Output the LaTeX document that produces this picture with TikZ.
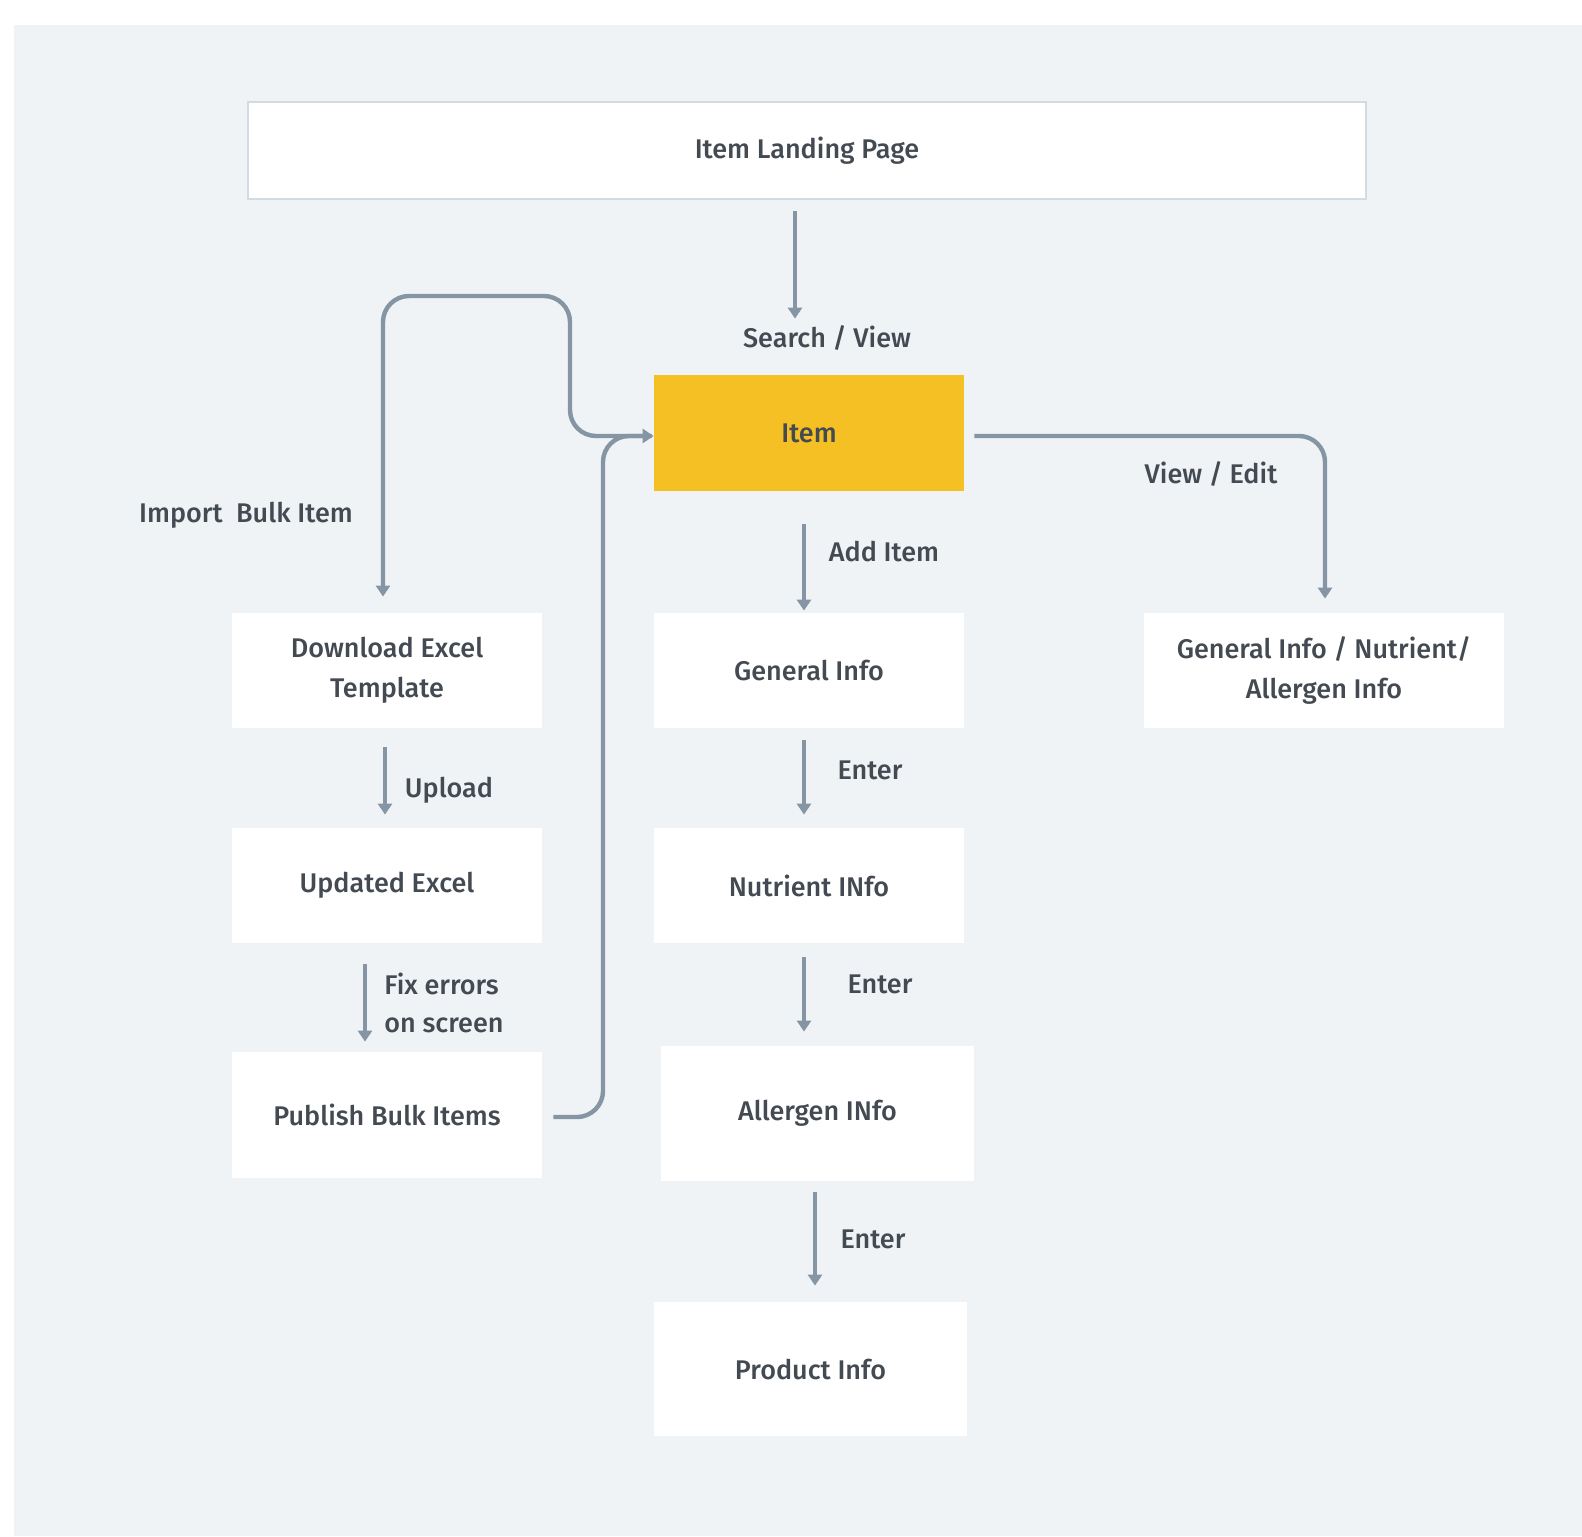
\documentclass[tikz,border=0pt]{standalone}
\usepackage{fontspec}
\setmainfont{Fira Sans Medium}
\usetikzlibrary{arrows.meta,calc}
\definecolor{bg}{HTML}{EFF3F6}
\definecolor{ln}{HTML}{8595A4}
\definecolor{tx}{HTML}{434A52}
\definecolor{gold}{HTML}{F5C023}
\definecolor{bd}{HTML}{D3DAE1}
\tikzset{
  box/.style={fill=white, text=tx, align=center, inner sep=0pt, font=\fontsize{13.5}{20}\selectfont},
  lbl/.style={text=tx, inner sep=0pt, font=\fontsize{13.5}{19}\selectfont},
  arr/.style={draw=ln, line width=2.2pt, -{Triangle[length=5.5pt,width=7pt]}},
  conn/.style={draw=ln, line width=2.2pt, rounded corners=13pt}
}
\begin{document}
\begin{tikzpicture}[x=0.5pt,y=-0.5pt]
\useasboundingbox (0,0) rectangle (1582,1536);
\fill[white] (0,0) rectangle (1582,1536);
\fill[bg] (14,25) rectangle (1582,1536);
% nodes
\node[box, draw=bd, line width=1pt, minimum width=559pt, minimum height=48.5pt] (land) at (807,150.5) {Item Landing Page};
\node[box, fill=gold, minimum width=155pt, minimum height=58pt] (item) at (809,433) {Item};
\node[box, minimum width=155pt, minimum height=57.5pt] (gi) at (809,670.5) {General Info};
\node[box, minimum width=155pt, minimum height=57.5pt] (ni) at (809,885.5) {Nutrient INfo};
\node[box, minimum width=156.5pt, minimum height=67.5pt] (ai) at (817.5,1113.5) {Allergen INfo};
\node[box, minimum width=156.5pt, minimum height=67pt] (pi) at (810.5,1369) {Product Info};
\node[box, minimum width=155pt, minimum height=57.5pt] (de) at (387,670.5) {Download Excel\\Template};
\node[box, minimum width=155pt, minimum height=57.5pt] (ue) at (387,885.5) {Updated Excel};
\node[box, minimum width=155pt, minimum height=63pt] (pb) at (387,1115) {Publish Bulk Items};
\node[box, minimum width=180pt, minimum height=57.5pt] (gn) at (1324,670.5) {General Info / Nutrient/\\Allergen Info};
% labels
\node[lbl] (lsv) at (827,338) {Search / View};
\node[lbl] (lai) at (884,552) {Add Item};
\node[lbl] (le1) at (870,770) {Enter};
\node[lbl] (le2) at (880,984) {Enter};
\node[lbl] (le3) at (873,1239) {Enter};
\node[lbl] (lup) at (449,790) {Upload};
\node[lbl, anchor=west, align=left] (lfx) at (384,1003) {Fix errors\\on screen};
\node[lbl] (lib) at (246,515) {Import\ \ Bulk Item};
\node[lbl] (lve) at (1211,474) {View / Edit};
% connectors
\draw[arr] ($(land.south)+(-12,11)$) -- ($(item.north)+(-14,-56)$);
\draw[arr] ($(item.south)+(-5,33)$) -- ($(gi.north)+(-5,-2)$);
\draw[arr] ($(gi.south)+(-5,12)$) -- ($(ni.north)+(-5,-13)$);
\draw[arr] ($(ni.south)+(-5,14)$) -- ($(ai.north)+(-13.5,-14)$);
\draw[arr] ($(ai.south)+(-2.5,11)$) -- ($(pi.north)+(4.5,-16)$);
\draw[arr] ($(de.south)+(-2,19)$) -- ($(ue.north)+(-2,-13)$);
\draw[arr] ($(ue.south)+(-22,21)$) -- ($(pb.north)+(-22,-10)$);
% view / edit
\draw[conn, arr] ($(item.east)+(10,3)$) -| ($(gn.north)+(1,-14)$);
% import bulk item
\coordinate (ib1) at (570,436);
\coordinate (ib2) at (570,296);
\coordinate (ib3) at (383,296);
\draw[conn, arr] ($(item.west)+(-2,3)$) -- (ib1) -- (ib2) -- (ib3) -- ($(de.north)+(-4,-16)$);
% publish loop
\coordinate (pl1) at (603,1117);
\coordinate (pl2) at (603,436);
\draw[conn, arr] ($(pb.east)+(11,2)$) -- (pl1) -- (pl2) -- ($(item.west)+(0,3)$);
\end{tikzpicture}
\end{document}
